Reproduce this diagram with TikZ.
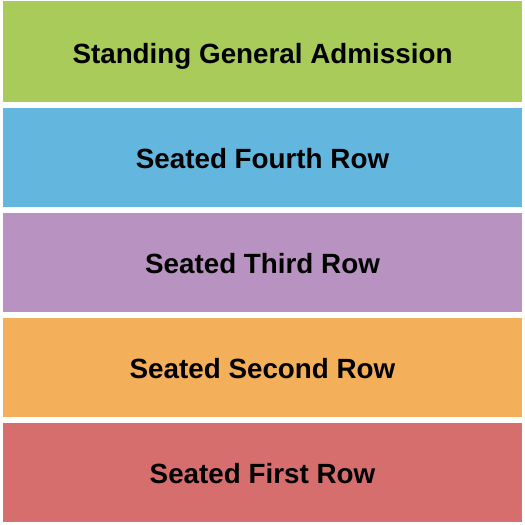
\documentclass[tikz,border=0pt]{standalone}
\usepackage{fontspec}
\setmainfont{Liberation Sans}
\usepackage{tikz}
\usetikzlibrary{positioning}
\definecolor{standgreen}{RGB}{168,203,90}
\definecolor{fourthblue}{RGB}{99,182,222}
\definecolor{thirdpurple}{RGB}{184,146,192}
\definecolor{secondorange}{RGB}{244,175,91}
\definecolor{firstred}{RGB}{214,110,110}
\begin{document}
\begin{tikzpicture}[x=1pt,y=1pt,
                   section/.style={minimum width=519pt,minimum height=99pt,inner sep=0pt,
                   text height=23.6pt,text depth=0pt,
                   font=\bfseries\fontsize{27.8}{30}\selectfont,text=black}]
\useasboundingbox[fill=white] (0,0) rectangle (525,-525);
\node[section,fill=standgreen,minimum height=101pt] (ga) at (262.5,-51.2) {Standing General Admission};
\node[section,fill=fourthblue] (fourth) at (262.5,-157) {Seated Fourth Row};
\node[section,fill=thirdpurple] (third) at (262.5,-262) {Seated Third Row};
\node[section,fill=secondorange] (second) at (262.5,-367) {Seated Second Row};
\node[section,fill=firstred] (first) at (262.5,-472) {Seated First Row};
\end{tikzpicture}
\end{document}
